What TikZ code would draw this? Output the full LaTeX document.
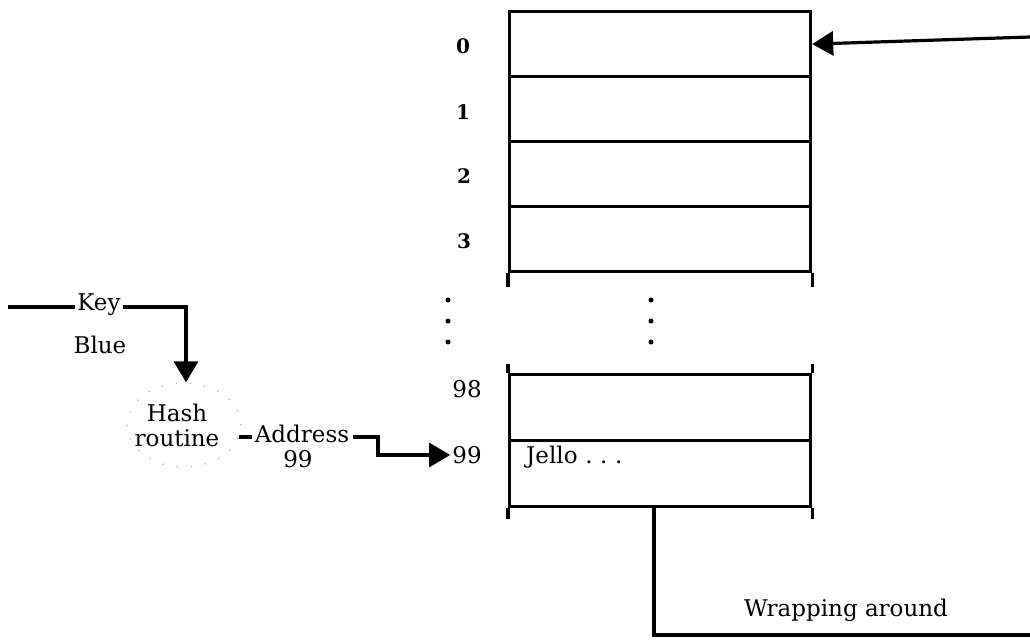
\documentclass[tikz,border=0pt]{standalone}
\usepackage{fontspec}
\setmainfont{DejaVu Serif}
\usetikzlibrary{arrows.meta,shapes.geometric}
\begin{document}
\begin{tikzpicture}[x=1pt,y=-1pt,
  every node/.style={font=\fontsize{23}{25}\selectfont, inner sep=2pt},
  cell/.style={draw, line width=3.2pt, minimum width=301pt, anchor=north west, inner sep=0pt},
  wire/.style={line width=3.2pt},
  leg/.style={line width=3.2pt},
  head/.style={-{Triangle[length=21pt,width=24pt]}},
  rowlabel/.style={font=\fontsize{20}{22}\selectfont\bfseries},
  tdot/.style={fill, circle, inner sep=0pt, minimum size=5pt}]
\useasboundingbox (0,0) rectangle (1030,642);

% upper part of the table
\node[cell, minimum height=65pt] (r0) at (508,10) {};
\node[cell, minimum height=65pt] (r1) at (508,75) {};
\node[cell, minimum height=65pt] (r2) at (508,140) {};
\node[cell, minimum height=65pt] (r3) at (508,205) {};
\draw[leg] (r3.south west) -- ++(0,14);
\draw[leg] (r3.south east) -- ++(0,14);

% lower part of the table
\node[cell, minimum height=66pt] (r98) at (508,373) {};
\node[cell, minimum height=66pt] (r99) at (508,439) {};
\draw[leg] (r98.north west) -- ++(0,-9);
\draw[leg] (r98.north east) -- ++(0,-9);
\draw[leg] (r99.south west) -- ++(0,11);
\draw[leg] (r99.south east) -- ++(0,11);
\node[anchor=west] (jello) at (524,457) {Jello\,\,.\,\,.\,\,.};

% row numbers
\node[rowlabel] (n0) at (463,46) {0};
\node[rowlabel] (n1) at (463,112) {1};
\node[rowlabel] (n2) at (464,176) {2};
\node[rowlabel] (n3) at (464,241) {3};
\node (n98) at (467,389) {98};
\node (n99) at (467,455) {99};

% ellipsis dots between the two parts
\foreach \y [count=\i] in {300,321,342} {
  \node[tdot] (la\i) at (448,\y) {};
  \node[tdot] (ma\i) at (651,\y) {};
}

% key and hash routine
\node (key) at (99,305) {Key};
\node (blue) at (100,345) {Blue};
\node[ellipse, draw=gray!70, line width=1.2pt, dash pattern=on 1.2pt off 13pt,
      minimum width=114pt, minimum height=84pt, align=center,
      font=\fontsize{23}{25}\selectfont] (hash) at (184,425) {\hspace*{-14pt}Hash\\\hspace*{-14pt}routine};
\coordinate (keyin) at (8,307);
\draw[wire] (keyin) -- (key.west |- keyin);
\draw[wire, head] (key.east |- keyin) -| ([xshift=2pt]hash.north);

% address produced by the hash routine
\node[inner sep=1pt] (addr) at (302,434) {Address};
\node[inner sep=1pt] (addrval) at (298,459) {99};
\draw[wire] ([xshift=-3pt]hash.east |- 0,437) -- ([xshift=-2pt]addr.west |- 0,437);
\draw[wire, head] ([xshift=3pt]addr.east |- 0,437) -- (378,437) |- (n99.west);

% pointer arriving at slot 0 from the right
\coordinate (wrapin) at (1030,37);
\draw[wire, head] (wrapin) -- (r0.east);

% wrap-around line leaving slot 99
\coordinate (wrapout) at (1030,635);
\draw[wire] (654,505) -- (654,635) -- (wrapout);
\node (wraplbl) at (846,610) {Wrapping around};
\end{tikzpicture}
\end{document}
